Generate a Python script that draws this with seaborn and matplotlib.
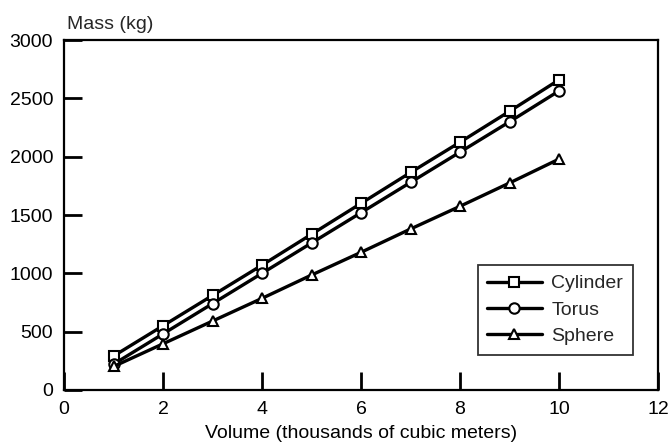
import pandas as pd
import matplotlib
matplotlib.use("Agg")
import matplotlib.pyplot as plt
import matplotlib.lines as mlines
import seaborn as sns

# data
volume = [1, 2, 3, 4, 5, 6, 7, 8, 9, 10]
cylinder = [290, 550, 810, 1070, 1335, 1600, 1865, 2125, 2390, 2660]
torus = [220, 480, 740, 1000, 1260, 1520, 1780, 2040, 2300, 2565]
sphere = [200, 395, 590, 785, 985, 1180, 1380, 1575, 1775, 1980]

shapes = ["Cylinder", "Torus", "Sphere"]
markers = {"Cylinder": "s", "Torus": "o", "Sphere": "^"}

df = pd.DataFrame({
    "Volume": volume * 3,
    "Mass": cylinder + torus + sphere,
    "Shape": ["Cylinder"] * len(volume) + ["Torus"] * len(volume) + ["Sphere"] * len(volume),
})

sns.set_style("ticks")
plt.rcParams["font.family"] = ["Liberation Sans", "DejaVu Sans"]

fig = plt.figure(figsize=(6.68, 4.47), dpi=100)
ax = fig.add_axes([0.096, 0.128, 0.889, 0.782])

for shape in shapes:
    sub = df[df["Shape"] == shape]
    sns.lineplot(data=sub, x="Volume", y="Mass", ax=ax, color="black",
                 linewidth=2.4, marker=markers[shape], markersize=7.5,
                 markerfacecolor="white", markeredgecolor="black", markeredgewidth=1.5,
                 label=shape)

ax.set_xlim(0, 12)
ax.set_ylim(0, 3000)
ax.set_xticks(range(0, 13, 2))
ax.set_yticks(range(0, 3001, 500))
for side in ax.spines.values():
    side.set_color("black")
    side.set_linewidth(1.6)

ax.set_xlabel("Volume (thousands of cubic meters)", fontsize=14, color="black", labelpad=5)
ax.set_ylabel("")
ax.text(0.004, 1.02, "Mass (kg)", transform=ax.transAxes, fontsize=14, ha="left", va="bottom")

leg = ax.legend(loc="lower right", bbox_to_anchor=(0.958, 0.1), frameon=True, fontsize=14,
                handlelength=2.8, borderpad=0.5, labelspacing=0.45, handletextpad=0.5,
                borderaxespad=0, fancybox=False)
leg.get_frame().set_edgecolor("black")
leg.get_frame().set_linewidth(1.3)

# inward ticks on left and bottom only, applied last
ax.set_axisbelow(False)
ax.tick_params(direction="in", length=13, width=2, color="#000000",
               labelsize=14, labelcolor="black", pad=8)
for tick in ax.xaxis.get_major_ticks():
    tick.tick1line.set_marker(mlines.TICKUP)
    tick.tick1line.set_markersize(13)
    tick.tick1line.set_markeredgewidth(2)
    tick.tick1line.set_markeredgecolor("#000000")
    tick.tick1line.set_zorder(6)
for tick in ax.yaxis.get_major_ticks():
    tick.tick1line.set_marker(mlines.TICKRIGHT)
    tick.tick1line.set_markersize(13)
    tick.tick1line.set_markeredgewidth(2)
    tick.tick1line.set_markeredgecolor("#000000")
    tick.tick1line.set_zorder(6)

fig.savefig("out.png", dpi=100)
